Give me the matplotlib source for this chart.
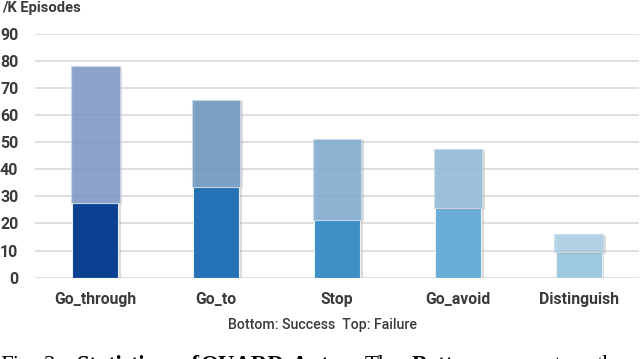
import matplotlib.pyplot as plt
import matplotlib.patheffects as pe

# data (per thousand episodes)
tasks = ['Go_through', 'Go_to', 'Stop', 'Go_avoid', 'Distinguish']
success = [27.7, 33.6, 21.3, 25.6, 9.4]
total = [78.0, 65.7, 51.2, 47.5, 16.0]
failure = [t - s for t, s in zip(total, success)]
yticks = [0, 10, 20, 30, 40, 50, 60, 70, 80, 90]

succ_colors = ['#0a4291', '#2472b5', '#3e8fc6', '#69add8', '#9dc8e0']
fail_colors = ['#7f98c8', '#6a96c0', '#7eacd0', '#93bcd9', '#abcfe5']

fig = plt.figure(figsize=(6.4, 3.59), dpi=100)
ax = fig.add_axes([35 / 640, 1 - 277.7 / 359, 604 / 640, 244 / 359])

x = list(range(len(tasks)))
shadow = [pe.SimplePatchShadow(offset=(2, -1), shadow_rgbFace='#999999', alpha=0.35), pe.Normal()]

ax.bar(x, success, width=0.38, color=succ_colors, edgecolor='#e8eef5', linewidth=0.8,
       zorder=3, path_effects=shadow)
ax.bar(x, failure, bottom=success, width=0.4, color=fail_colors, alpha=0.85,
       edgecolor='#c8d8ea', linewidth=0.8, zorder=3, path_effects=shadow)

ax.set_xlim(-0.5, 4.5)
ax.set_ylim(0, 90)
ax.set_yticks(yticks)
ax.set_xticks(x)
ax.set_xticklabels(tasks)
ax.tick_params(length=0, labelcolor='#3a3a3a')
ax.tick_params(axis='x', labelsize=11.3, pad=10)
ax.tick_params(axis='y', labelsize=11.5, pad=12)
for lab in ax.get_xticklabels() + ax.get_yticklabels():
    lab.set_fontweight('bold')
    lab.set_family('Roboto')
ax.grid(axis='y', color='#d9d9d9', linewidth=1.2, zorder=0)
for s in ax.spines.values():
    s.set_visible(False)

fig.text(2 / 640, 1 - 8 / 359, '/K Episodes', fontsize=10.6, fontweight='bold', color='#3a3a3a',
         family='Roboto', va='center', ha='left')
fig.text(322 / 640, 1 - 325 / 359, 'Bottom: Success  Top: Failure', fontsize=10.2, color='#3a3a3a',
         family='Roboto', fontweight='medium', va='center', ha='center')

# caption (justified line), cut off at the bottom edge as in the source
words = ['Fig.', '3:', 'Statistics', 'of', 'QUARD-Auto.', 'The', 'Bottom', 'represents', 'the']
weights = ['normal', 'normal', 'bold', 'bold', 'bold', 'normal', 'bold', 'normal', 'normal']
word_x = [0, 44, 77, 180, 201, 365, 412, 478, 597]
for w, wt, wx in zip(words, weights, word_x):
    fig.text(wx / 640, 1 - 371 / 359, w, fontsize=16.5, fontweight=wt, family='Liberation Serif',
             color='black', va='baseline', ha='left')

fig.savefig('out.png', dpi=100)
